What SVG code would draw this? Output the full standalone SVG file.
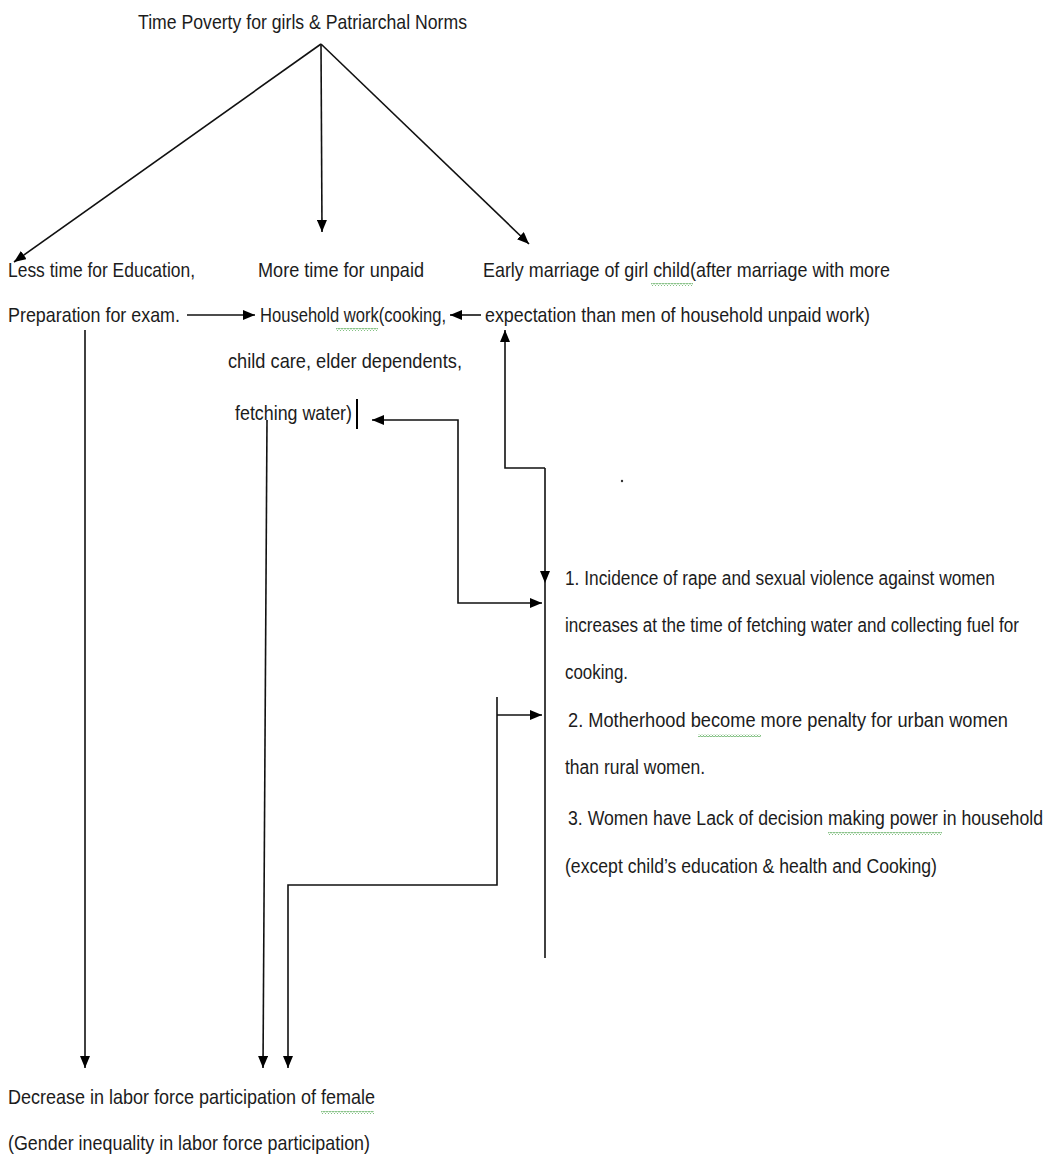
<svg xmlns="http://www.w3.org/2000/svg" width="1049" height="1161" viewBox="0 0 1049 1161">
<style>
.t{font-family:"Liberation Sans",Arial,sans-serif;font-size:21px;fill:#1c1c1c;}
.c{fill:none;stroke:#111;stroke-width:1.6;}
.sq{fill:none;stroke:#3a9a3a;stroke-width:0.8;}
</style>
<defs>
<marker id="ah" viewBox="0 0 12 10" refX="12" refY="5" markerWidth="12" markerHeight="10" markerUnits="userSpaceOnUse" orient="auto-start-reverse">
<path d="M0,0 L12,5 L0,10 z" fill="#000"/>
</marker>
<pattern id="wv" width="3" height="3" patternUnits="userSpaceOnUse">
<path d="M0,2.5 L1.5,0.5 L3,2.5" class="sq"/>
</pattern>
</defs>
<rect width="1049" height="1161" fill="#fff"/>

<g id="connectors">
<path class="c" d="M321,44 L14,262" marker-end="url(#ah)"/>
<path class="c" d="M321,44 L322,232" marker-end="url(#ah)"/>
<path class="c" d="M321,44 L529,244" marker-end="url(#ah)"/>
<path class="c" d="M187,315 L255,315" marker-end="url(#ah)"/>
<path class="c" d="M481,315 L450,315" marker-end="url(#ah)"/>
<path class="c" d="M372,420 L458,420 L458,603 L542,603" marker-start="url(#ah)" marker-end="url(#ah)"/>
<path class="c" d="M545,468 L505,468 L505,330" marker-end="url(#ah)"/>
<path class="c" d="M545,468 L545,583" marker-end="url(#ah)"/>
<path class="c" d="M545,583 L545,958"/>
<path class="c" d="M497,715 L542,715" marker-end="url(#ah)"/>
<path class="c" d="M497,697 L497,885 L288,885 L288,1068" marker-end="url(#ah)"/>
<path class="c" d="M267,420 L263,1068" marker-end="url(#ah)"/>
<path class="c" d="M85,330 L85,1068" marker-end="url(#ah)"/>
</g>

<g id="title">
<text class="t" x="138" y="29" textLength="329" lengthAdjust="spacingAndGlyphs">Time  Poverty for girls  &amp; Patriarchal  Norms</text>
</g>

<g id="education">
<text class="t" x="8" y="277" textLength="187" lengthAdjust="spacingAndGlyphs">Less time for Education,</text>
<text class="t" x="8" y="322" textLength="172" lengthAdjust="spacingAndGlyphs">Preparation  for exam.</text>
</g>

<g id="household">
<text class="t" x="258" y="277" textLength="166" lengthAdjust="spacingAndGlyphs">More time for unpaid</text>
<text class="t" x="260" y="322" textLength="186" lengthAdjust="spacingAndGlyphs">Household work(cooking,</text>
<text class="t" x="228" y="368" textLength="234" lengthAdjust="spacingAndGlyphs">child care, elder dependents,</text>
<text class="t" x="235" y="420" textLength="117" lengthAdjust="spacingAndGlyphs">fetching water)</text>
<rect x="356" y="399" width="2" height="30" fill="#000"/>
<rect x="336" y="328" width="42" height="3" fill="url(#wv)"/>
</g>

<g id="marriage">
<text class="t" x="483" y="277" textLength="407" lengthAdjust="spacingAndGlyphs">Early  marriage  of girl child(after  marriage with  more</text>
<text class="t" x="485" y="322" textLength="385" lengthAdjust="spacingAndGlyphs">expectation than men of household unpaid work)</text>
<rect x="651" y="283" width="42" height="3" fill="url(#wv)"/>
</g>

<circle cx="622" cy="481" r="1.2" fill="#333"/>

<g id="consequences">
<g transform="scale(0.8,1)">
<text class="t" x="706.25" y="585" textLength="537.5" lengthAdjust="spacingAndGlyphs">1. Incidence of rape and sexual violence against women</text>
<text class="t" x="706.25" y="632" textLength="567.5" lengthAdjust="spacingAndGlyphs">increases at the time of fetching water and collecting  fuel for</text>
<text class="t" x="706.25" y="679" textLength="78.75" lengthAdjust="spacingAndGlyphs">cooking.</text>
<text class="t" x="710" y="727" textLength="550" lengthAdjust="spacingAndGlyphs">2.  Motherhood become more penalty for urban women</text>
<text class="t" x="706.25" y="774" textLength="175" lengthAdjust="spacingAndGlyphs">than rural women.</text>
<text class="t" x="710" y="825" textLength="593.75" lengthAdjust="spacingAndGlyphs">3. Women have Lack of decision making  power in household</text>
<text class="t" x="706.25" y="873" textLength="465" lengthAdjust="spacingAndGlyphs">(except child’s education &amp; health and Cooking)</text>
</g>
<rect x="698" y="734" width="63" height="3" fill="url(#wv)"/>
<rect x="828" y="832" width="114" height="3" fill="url(#wv)"/>
</g>

<g id="labor">
<text class="t" x="8" y="1104" textLength="367" lengthAdjust="spacingAndGlyphs">Decrease in labor force participation  of female</text>
<text class="t" x="8" y="1150" textLength="362" lengthAdjust="spacingAndGlyphs">(Gender inequality in labor force participation)</text>
<rect x="321" y="1111" width="53" height="3" fill="url(#wv)"/>
</g>
</svg>
